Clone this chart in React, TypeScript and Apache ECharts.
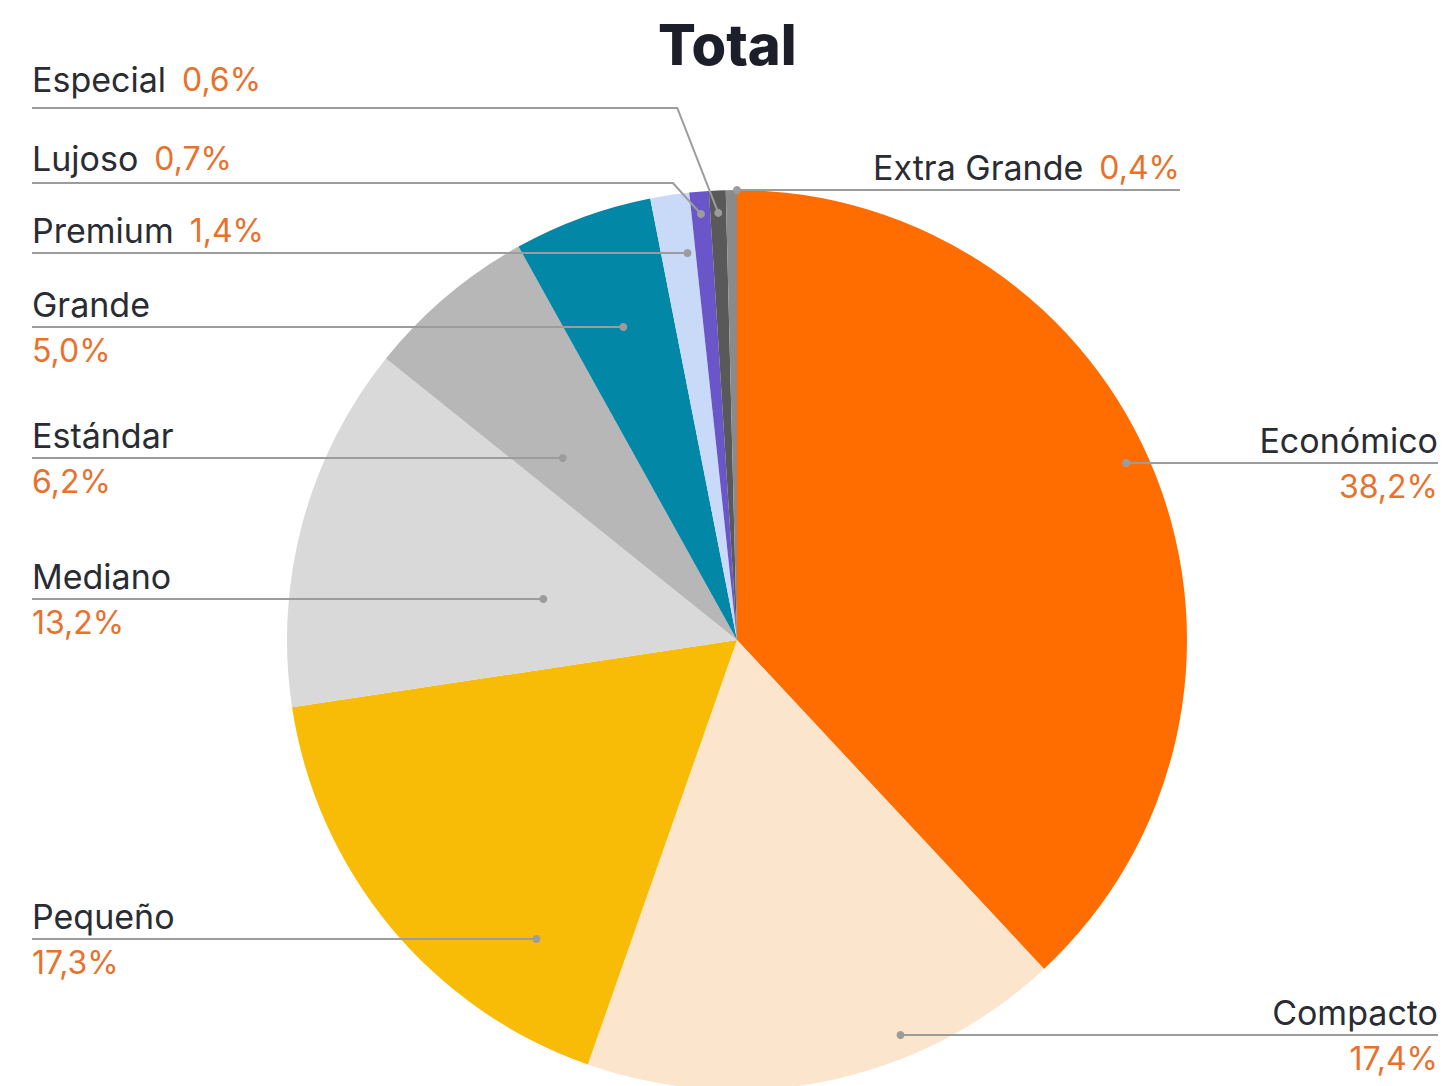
import React, { useEffect, useRef } from "react";
import * as echarts from "echarts";

// ---------- data ----------
const categories = [
  "Económico",
  "Compacto",
  "Pequeño",
  "Mediano",
  "Estándar",
  "Grande",
  "Premium",
  "Lujoso",
  "Especial",
  "Extra Grande",
];
const shares = [38.2, 17.4, 17.3, 13.2, 6.2, 5.0, 1.4, 0.7, 0.6, 0.4];
const sliceColors = [
  "#FF6D00",
  "#FCE5CD",
  "#F9BC06",
  "#D9D9D9",
  "#B7B7B7",
  "#0387A7",
  "#C9DAF8",
  "#6A55C9",
  "#595959",
  "#8A8A8A",
];

// ---------- layout (positions / styles only) ----------
const W = 1446;
const H = 1086;
const CX = 737;
const CY = 640;
const R = 450;
const FONT = "Inter, 'Noto Sans', sans-serif";
const NAME_COLOR = "#2a2c33";
const PCT_COLOR = "#E8712B";
const LINE_COLOR = "#9c9c9c";

type Spec = {
  lineY: number;
  dotR: number;
  edgeX: number;
  align: "left" | "right";
  twoLine: boolean;
  ray?: boolean;
  bendDx?: number;
  textDy?: number;
};

const labelSpecs: Spec[] = [
  { lineY: 463, dotR: 0.95, edgeX: 1438, align: "right", twoLine: true },
  { lineY: 1035, dotR: 0.95, edgeX: 1438, align: "right", twoLine: true },
  { lineY: 939, dotR: 0.8, edgeX: 32, align: "left", twoLine: true },
  { lineY: 599, dotR: 0.44, edgeX: 32, align: "left", twoLine: true },
  { lineY: 458, dotR: 0.56, edgeX: 32, align: "left", twoLine: true },
  { lineY: 327, dotR: 0.74, edgeX: 32, align: "left", twoLine: true },
  { lineY: 253, dotR: 0.867, edgeX: 32, align: "left", twoLine: false },
  { lineY: 183, dotR: 0.95, edgeX: 32, align: "left", twoLine: false, ray: true, bendDx: -28, textDy: -2 },
  { lineY: 108, dotR: 0.95, edgeX: 32, align: "left", twoLine: false, ray: true, bendDx: -41, textDy: -6 },
  { lineY: 190, dotR: 1.0, edgeX: 1180, align: "right", twoLine: false },
];

function fmtPct(v: number) {
  return v.toFixed(1).replace(".", ",") + "%";
}

function computeAnchors() {
  const total = shares.reduce((a, b) => a + b, 0);
  let cum = 0;
  return shares.map((v, i) => {
    const mid = ((cum + v / 2) / total) * 2 * Math.PI;
    cum += v;
    const spec = labelSpecs[i];
    const sx = Math.sin(mid);
    const sy = -Math.cos(mid);
    let dot: number[];
    if (spec.ray) {
      dot = [CX + sx * spec.dotR * R, CY + sy * spec.dotR * R];
    } else {
      const rr = spec.dotR * R;
      const dy = spec.lineY - CY;
      const dx = Math.sqrt(Math.max(0, rr * rr - dy * dy));
      dot = [CX + (sx < 0 ? -1 : 1) * dx, spec.lineY];
    }
    const bend = spec.ray ? [dot[0] + (spec.bendDx || 0), spec.lineY] : [dot[0], spec.lineY];
    const end = [spec.edgeX, spec.lineY];
    return { dot, bend, end, spec };
  });
}

export default function App() {
  const ref = useRef<HTMLDivElement>(null);

  useEffect(() => {
    if (!ref.current) return;
    const chart = echarts.init(ref.current, undefined, { renderer: "svg" });
    const anchors = computeAnchors();

    const data = categories.map((name, i) => ({
      name,
      value: shares[i],
      itemStyle: { color: sliceColors[i] },
    }));

    const lineEls: any[] = [];
    anchors.forEach((a) => {
      lineEls.push({
        type: "polyline",
        z: 100,
        silent: true,
        shape: { points: [a.end, a.bend, a.dot] },
        style: { stroke: LINE_COLOR, lineWidth: 2, fill: "none" },
      });
      lineEls.push({
        type: "circle",
        z: 101,
        silent: true,
        shape: { cx: a.dot[0], cy: a.dot[1], r: 4 },
        style: { fill: LINE_COLOR },
      });
    });

    chart.setOption({
      animation: false,
      backgroundColor: "#ffffff",
      title: {
        text: "Total",
        left: 653,
        top: 12,
        textStyle: {
          fontFamily: FONT,
          fontSize: 56,
          fontWeight: 800,
          color: "#1c1e29",
        },
      },
      graphic: lineEls,
      series: [
        {
          type: "pie",
          center: [CX, CY],
          radius: R,
          startAngle: 90,
          clockwise: true,
          avoidLabelOverlap: false,
          emphasis: { disabled: true },
          data,
          label: {
            show: true,
            position: "outside",
            fontFamily: FONT,
            formatter: (p: any) => {
              const spec = labelSpecs[p.dataIndex];
              const pct = fmtPct(p.value);
              return spec.twoLine
                ? `{n|${p.name}}\n{q|${pct}}`
                : `{n|${p.name}}{p|${pct}}`;
            },
            rich: {
              n: {
                fontFamily: FONT,
                fontSize: 34,
                color: NAME_COLOR,
                lineHeight: 46,
              },
              p: {
                fontFamily: FONT,
                fontSize: 32,
                color: PCT_COLOR,
                lineHeight: 46,
                padding: [0, 0, 0, 16],
              },
              q: {
                fontFamily: FONT,
                fontSize: 32,
                color: PCT_COLOR,
                lineHeight: 46,
              },
            },
          },
          labelLine: { show: false },
          labelLayout: (params: any) => {
            const spec = labelSpecs[params.dataIndex];
            return {
              x: spec.edgeX,
              y: spec.lineY + (spec.textDy || 0),
              align: spec.align,
              verticalAlign: spec.twoLine ? "middle" : "bottom",
            };
          },
        },
      ],
    });

    return () => chart.dispose();
  }, []);

  return (
    <div
      ref={ref}
      style={{ position: "absolute", left: 0, top: 0, width: W, height: H }}
    />
  );
}
